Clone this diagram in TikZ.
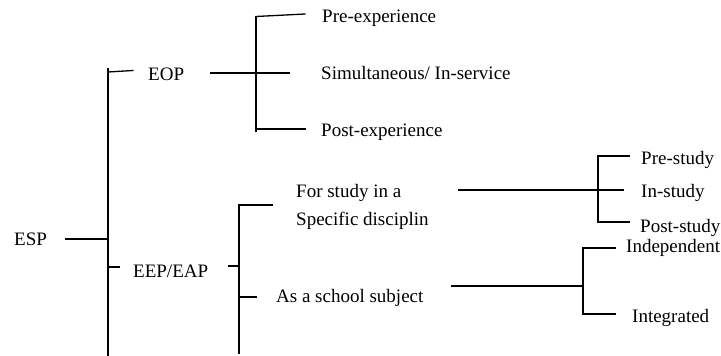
\documentclass[tikz,border=0pt]{standalone}
\usepackage{fontspec}
\setmainfont{Liberation Serif}
\begin{document}
\begin{tikzpicture}[x=1pt,y=-1pt,
  lbl/.style={anchor=base west,inner sep=0pt,font=\fontsize{19}{22}\selectfont},
  ln/.style={line width=1.3pt,line cap=rect}]
\clip (0,0) rectangle (721,356);
\fill[white] (0,0) rectangle (721,356);
% labels
\node[lbl] (esp) at (14,245) {ESP};
\node[lbl] (eop) at (148,80) {EOP};
\node[lbl] (eep) at (133,277) {EEP/EAP};
\node[lbl] (pre) at (322,23) {Pre-experience};
\node[lbl] (sim) at (321,79) {Simultaneous/ In-service};
\node[lbl] (post) at (321,136) {Post-experience};
\node[lbl] (fs1) at (296,197) {For study in a};
\node[lbl] (fs2) at (296,225) {Specific disciplin};
\node[lbl] (sch) at (276,302) {As a school subject};
\node[lbl] (prs) at (641,164) {Pre-study};
\node[lbl] (ins) at (641,197) {In-study};
\node[lbl] (pos) at (640,232) {Post-study};
\node[lbl] (ind) at (626,252) {Independent};
\node[lbl] (int) at (632,322) {Integrated};
% coordinates
\coordinate (espR) at (66,239);
\coordinate (mT) at (108,69);
\coordinate (mB) at (108,358);
\coordinate (mEsp) at (108,239);
\coordinate (mEop) at (108,72);
\coordinate (eopT) at (133,70.5);
\coordinate (mEep) at (108,267);
\coordinate (eepT) at (119,267);
\coordinate (eopR) at (211,73);
\coordinate (eopE) at (289,73);
\coordinate (b1T) at (256,16.5);
\coordinate (b1B) at (256,131);
\coordinate (b1Tr) at (305,14);
\coordinate (b1Bl) at (256,129);
\coordinate (b1Br) at (305,129);
\coordinate (eepR) at (229,266);
\coordinate (eepE) at (237.5,266);
\coordinate (b2T) at (239,205);
\coordinate (b2B) at (239,353);
\coordinate (b2Tr) at (272,205);
\coordinate (b2M) at (239,297);
\coordinate (b2Mr) at (256,297);
\coordinate (stL) at (459,190);
\coordinate (stR) at (623,190);
\coordinate (b3T) at (598,156);
\coordinate (b3B) at (598,222);
\coordinate (b3Tr) at (629,156);
\coordinate (b3Br) at (629,222);
\coordinate (scL) at (452,286);
\coordinate (scR) at (583,286);
\coordinate (b4T) at (583,248);
\coordinate (b4B) at (583,314);
\coordinate (b4Tr) at (615,248);
\coordinate (b4Br) at (615,314);
% connectors
\draw[ln] (espR) -- (mEsp);
\draw[ln] (mT) -- (mB);
\draw[ln] (mEop) -- (eopT);
\draw[ln] (mEep) -- (eepT);
\draw[ln] (eopR) -- (eopE);
\draw[ln] (b1T) -- (b1B);
\draw[ln] (b1T) -- (b1Tr);
\draw[ln] (b1Bl) -- (b1Br);
\draw[ln] (eepR) -- (eepE);
\draw[ln] (b2T) -- (b2B);
\draw[ln] (b2T) -- (b2Tr);
\draw[ln] (b2M) -- (b2Mr);
\draw[ln] (stL) -- (stR);
\draw[ln] (b3T) -- (b3B);
\draw[ln] (b3T) -- (b3Tr);
\draw[ln] (b3B) -- (b3Br);
\draw[ln] (scL) -- (scR);
\draw[ln] (b4T) -- (b4B);
\draw[ln] (b4T) -- (b4Tr);
\draw[ln] (b4B) -- (b4Br);
\end{tikzpicture}
\end{document}
